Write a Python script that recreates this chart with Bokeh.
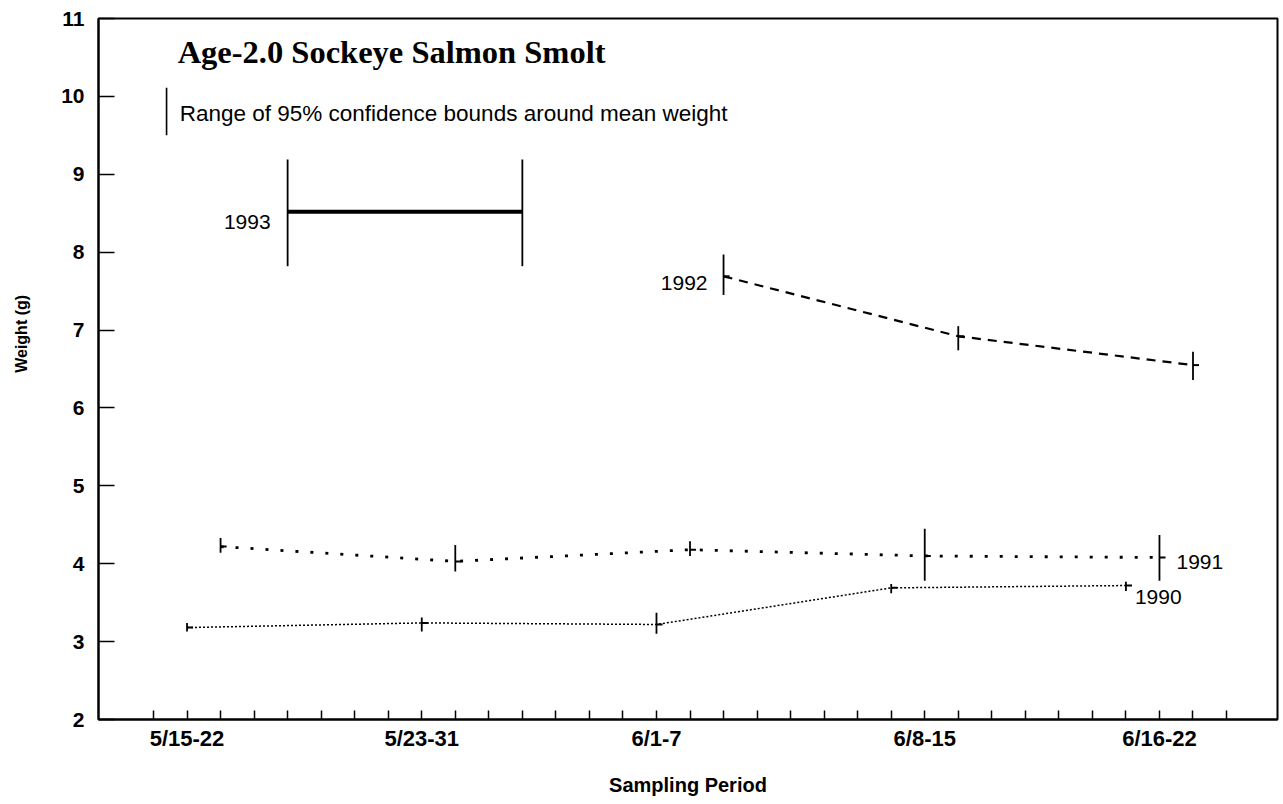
from bokeh.plotting import figure
from bokeh.layouts import row
from bokeh.models import Range1d, FixedTicker, Label
from bokeh.core.properties import value
from bokeh.embed import file_html
from bokeh.resources import INLINE

# ---- data ----
periods = ["5/15-22", "5/23-31", "6/1-7", "6/8-15", "6/16-22"]
period_label_pos = [1, 8, 15, 23, 30]          # x-axis position of each period label (minor-tick units)
axis_ticks = list(range(0, 33))
y_ticks = [2, 3, 4, 5, 6, 7, 8, 9, 10, 11]

# period index of each sample, per smolt year
idx_1990 = [0, 1, 2, 3, 4]
mean_1990 = [3.18, 3.24, 3.22, 3.69, 3.72]
lo_1990 = [3.13, 3.13, 3.10, 3.62, 3.65]
hi_1990 = [3.24, 3.31, 3.37, 3.74, 3.77]

idx_1991 = [0, 1, 2, 3, 4]
mean_1991 = [4.22, 4.03, 4.18, 4.10, 4.08]
lo_1991 = [4.14, 3.90, 4.10, 3.78, 3.78]
hi_1991 = [4.33, 4.24, 4.29, 4.45, 4.37]

idx_1992 = [2, 3, 4]
mean_1992 = [7.69, 6.92, 6.55]
lo_1992 = [7.45, 6.74, 6.36]
hi_1992 = [7.97, 7.05, 6.72]

idx_1993 = [0, 1]
mean_1993 = [8.52, 8.52]
lo_1993 = [7.82, 7.82]
hi_1993 = [9.19, 9.19]

# each period spans 7 minor ticks; years are offset by one tick within a period
def xpos(idx, year):
    return [1 + 7 * i + (year - 1990) for i in idx]

FONT = "Liberation Sans"
H = 798
LEFT_W = 40

# narrow strip holding the vertical y-axis title
py = figure(width=LEFT_W, height=H, output_backend="svg", toolbar_location=None,
            x_range=Range1d(0, LEFT_W), y_range=Range1d(0, H),
            x_axis_type=None, y_axis_type=None,
            min_border_left=0, min_border_right=0, min_border_top=0, min_border_bottom=0)
py.outline_line_color = None
py.background_fill_color = "white"
py.border_fill_color = "white"
py.xgrid.grid_line_color = None
py.ygrid.grid_line_color = None
py.text(x=[21], y=[H - 359], text=["Weight (g)"], angle=1.5708,
        text_font=value(FONT), text_font_size="16px", text_font_style="bold",
        text_color="black", text_align="center", text_baseline="middle")

p = figure(width=1280 - LEFT_W, height=H, output_backend="svg", toolbar_location=None,
           x_range=Range1d(-1.64, 33.52), y_range=Range1d(2, 11),
           min_border_left=98 - LEFT_W, min_border_right=3, min_border_top=18, min_border_bottom=79)

p.background_fill_color = "white"
p.border_fill_color = "white"
p.outline_line_color = "black"
p.outline_line_width = 2
p.xgrid.grid_line_color = None
p.ygrid.grid_line_color = None

# x axis
p.xaxis.ticker = FixedTicker(ticks=axis_ticks)
overrides = {t: "" for t in axis_ticks}
for pos, lab in zip(period_label_pos, periods):
    overrides[pos] = lab
p.xaxis.major_label_overrides = overrides
p.xaxis.major_tick_in = 9
p.xaxis.major_tick_out = 0
p.xaxis.minor_tick_line_color = None
p.xaxis.axis_line_width = 2
p.xaxis.major_tick_line_width = 1.5
p.xaxis.major_label_text_font = FONT
p.xaxis.major_label_text_font_size = "22px"
p.xaxis.major_label_text_font_style = "bold"
p.xaxis.major_label_text_color = "black"
p.xaxis.major_label_standoff = 6
p.xaxis.axis_label = "Sampling Period"
p.xaxis.axis_label_text_font = FONT
p.xaxis.axis_label_text_font_size = "20px"
p.xaxis.axis_label_text_font_style = "bold"
p.xaxis.axis_label_text_color = "black"
p.xaxis.axis_label_standoff = 20

# y axis
p.yaxis.ticker = FixedTicker(ticks=y_ticks)
p.yaxis.major_tick_in = 16
p.yaxis.major_tick_out = 0
p.yaxis.minor_tick_line_color = None
p.yaxis.axis_line_width = 2
p.yaxis.major_tick_line_width = 1.5
p.yaxis.major_label_text_font = FONT
p.yaxis.major_label_text_font_size = "21px"
p.yaxis.major_label_text_font_style = "bold"
p.yaxis.major_label_text_color = "black"
p.yaxis.major_label_standoff = 14

# series
series = [
    (1990, idx_1990, mean_1990, lo_1990, hi_1990, "2 2", 1.5),
    (1991, idx_1991, mean_1991, lo_1991, hi_1991, "3 12", 2.8),
    (1992, idx_1992, mean_1992, lo_1992, hi_1992, "9 7", 2.2),
    (1993, idx_1993, mean_1993, lo_1993, hi_1993, "solid", 4.0),
]
for year, idx, mean, lo, hi, dash, lw in series:
    xs = xpos(idx, year)
    p.line(xs, mean, line_color="black", line_width=lw, line_dash=dash)
    p.segment(x0=xs, y0=lo, x1=xs, y1=hi, line_color="black", line_width=1.8)
    if year != 1993:
        # small mean mark on each confidence bar
        p.segment(x0=xs, y0=mean, x1=[x + 0.18 for x in xs], y1=mean,
                  line_color="black", line_width=2)

# legend key
p.segment(x0=[0.39], y0=[9.50], x1=[0.39], y1=[10.11], line_color="black", line_width=1.6)
p.add_layout(Label(x=0.78, y=9.78, text="Range of 95% confidence bounds around mean weight",
                   text_font=FONT, text_font_size="22.5px", text_color="black",
                   text_baseline="middle", text_align="left"))

# title
p.add_layout(Label(x=0.72, y=10.576, text="Age-2.0 Sockeye Salmon Smolt",
                   text_font="Liberation Serif", text_font_size="32.5px", text_font_style="bold",
                   text_color="black", text_baseline="middle", text_align="left"))

# year labels
def year_label(txt, x, y, dx, align):
    p.add_layout(Label(x=x, y=y, x_offset=dx, text=txt, text_font=FONT, text_font_size="21px",
                       text_color="black", text_baseline="middle", text_align=align))

year_label("1993", xpos(idx_1993, 1993)[0], 8.39, -17, "right")
year_label("1992", xpos(idx_1992, 1992)[0], 7.60, -16, "right")
year_label("1991", xpos(idx_1991, 1991)[-1], 4.02, 17, "left")
year_label("1990", xpos(idx_1990, 1990)[-1], 3.57, 9, "left")

layout = row(py, p, spacing=0)
open("out.html", "w").write(file_html(layout, INLINE))
